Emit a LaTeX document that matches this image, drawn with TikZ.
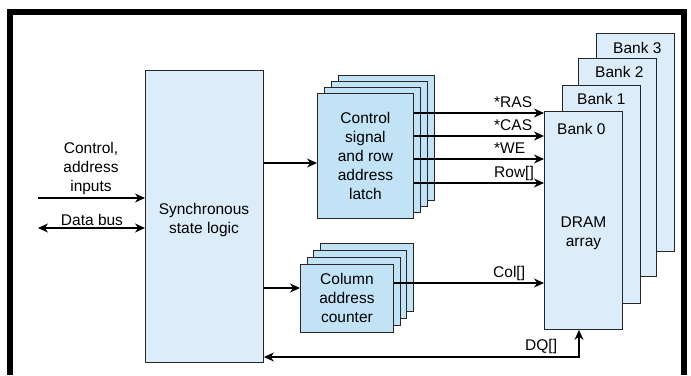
\documentclass[tikz,border=0pt]{standalone}
\usepackage{fontspec}
\setmainfont{Liberation Sans}
\usepackage{tikz}
\usetikzlibrary{arrows.meta,positioning,calc}

\definecolor{paleblue}{HTML}{DCEDF9}
\definecolor{stackblue}{HTML}{C2E2F6}

\begin{document}
\begin{tikzpicture}[
    x=1pt, y=-1pt,
    txt/.style={font=\fontsize{15.5}{19}\selectfont, inner sep=0pt},
    box/.style={rectangle, draw=black!85, line width=0.9pt, anchor=north west, txt, align=center},
    logicbox/.style={box, fill=paleblue, minimum width=118pt, minimum height=292pt},
    latchbox/.style={box, fill=stackblue, minimum width=96pt, minimum height=125pt},
    ctrbox/.style={box, fill=stackblue, minimum width=93pt, minimum height=68pt},
    bankbox/.style={box, fill=paleblue, minimum width=78pt, minimum height=218pt},
    arr/.style={line width=1.1pt, -{Stealth[length=10pt,width=9pt]}},
    arrtwo/.style={line width=1.1pt, {Stealth[length=10pt,width=9pt]}-{Stealth[length=10pt,width=9pt]}},
]
    \useasboundingbox (0,0) rectangle (691,375);
    \draw[line width=6pt, line join=miter] (10,375) -- (10,12) -- (684,12) -- (684,375);

    % banks, back to front
    \node[bankbox] (bank3) at (596,33) {};
    \node[bankbox] (bank2) at (578,58) {};
    \node[bankbox] (bank1) at (562,85) {};
    \node[bankbox] (bank0) at (544,111) {};
    \node[txt, anchor=base west] (b3lab) at (613,53) {Bank 3};
    \node[txt, anchor=base west] (b2lab) at (595,77) {Bank 2};
    \node[txt, anchor=base west] (b1lab) at (577,104) {Bank 1};
    \node[txt, anchor=base west] (b0lab) at (557,134) {Bank 0};
    \node[txt, align=center] (dram) at (583.5,233) {DRAM\\array};

    % state logic
    \node[logicbox] (sync) at (145,70) {};
    \node[txt, align=center] (synclab) at (204,220) {Synchronous\\state logic};

    % latch stack
    \node[latchbox] (latchc) at (338,75) {};
    \node[latchbox] (latchb) at (331,81) {};
    \node[latchbox] (latcha) at (324,87) {};
    \node[latchbox] (latch) at (317,93) {Control\\signal\\and row\\address\\latch};

    % column counter stack
    \node[ctrbox] (colctrc) at (320,243) {};
    \node[ctrbox] (colctrb) at (313,250) {};
    \node[ctrbox] (colctra) at (307,257) {};
    \node[ctrbox] (colctr) at (300,264) {Column\\address\\counter};

    % inputs
    \coordinate (ctlin) at (38,198);
    \coordinate (datain) at (38,228);
    \node[txt, align=center, anchor=south] (ctllab) at (91,195) {Control,\\address\\inputs};
    \node[txt, anchor=base] (datalab) at (92,225) {Data bus};
    \draw[arr] (ctlin) -- (ctlin -| sync.west);
    \draw[arrtwo] (datain) -- (datain -| sync.west);

    % logic to latch and counter
    \coordinate (tolatch) at (0,163);
    \coordinate (toctr) at (0,288);
    \draw[arr] (sync.east |- tolatch) -- (latch.west |- tolatch);
    \draw[arr] (sync.east |- toctr) -- (colctr.west |- toctr);

    % signals into bank 0
    \coordinate (ras) at (0,113);
    \coordinate (cas) at (0,136);
    \coordinate (we) at (0,159);
    \coordinate (row) at (0,183);
    \coordinate (col) at (0,283);
    \draw[arr] (latch.east |- ras) -- (bank0.west |- ras);
    \draw[arr] (latch.east |- cas) -- (bank0.west |- cas);
    \draw[arr] (latch.east |- we) -- (bank0.west |- we);
    \draw[arr] (latch.east |- row) -- (bank0.west |- row);
    \draw[arr] (colctr.east |- col) -- (bank0.west |- col);
    \node[txt, anchor=base west] (raslab) at (494,107) {*RAS};
    \node[txt, anchor=base west] (caslab) at (494,130) {*CAS};
    \node[txt, anchor=base west] (welab) at (494,153) {*WE};
    \node[txt, anchor=base west] (rowlab) at (494,177) {Row[]};
    \node[txt, anchor=base west] (collab) at (493,277) {Col[]};

    % data path back to logic
    \coordinate (dq) at (579,357);
    \draw[arrtwo] (sync.east |- dq) -- (dq) -- (dq |- bank0.south);
    \node[txt, anchor=base west] (dqlab) at (525,350) {DQ[]};
\end{tikzpicture}
\end{document}
